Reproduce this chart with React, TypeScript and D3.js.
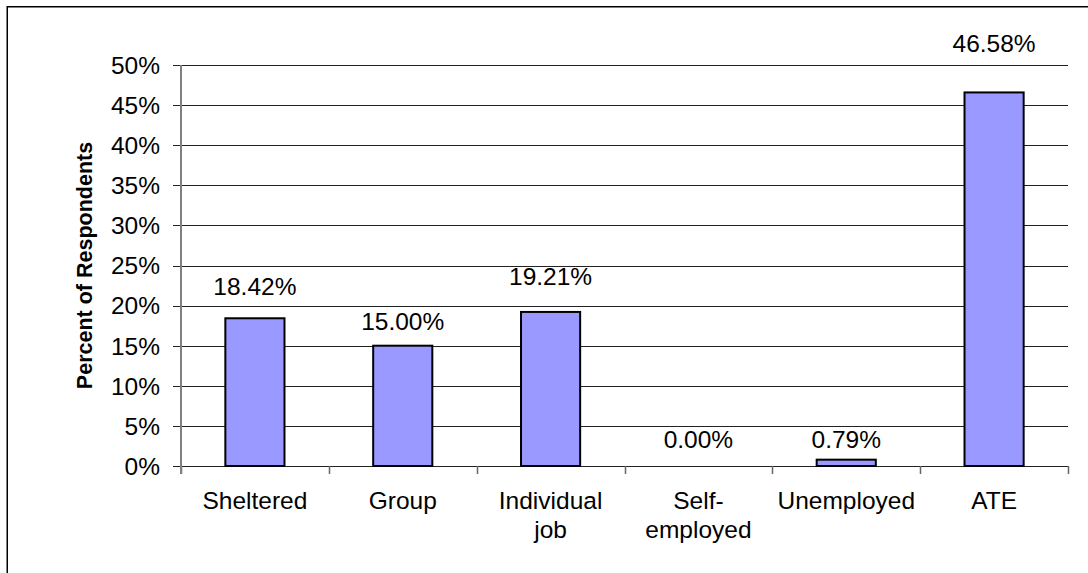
import React from "react";
import * as d3 from "d3";

const categories: string[][] = [
  ["Sheltered"],
  ["Group"],
  ["Individual", "job"],
  ["Self-", "employed"],
  ["Unemployed"],
  ["ATE"],
];
const values: number[] = [18.42, 15.0, 19.21, 0.0, 0.79, 46.58];
const valueLabels: string[] = ["18.42%", "15.00%", "19.21%", "0.00%", "0.79%", "46.58%"];
const yTicks: number[] = [0, 5, 10, 15, 20, 25, 30, 35, 40, 45, 50];
const yTitle = "Percent of Respondents";

export default function App() {
  const W = 1088;
  const H = 573;
  const left = 181;
  const right = 1068;
  const top = 65;
  const bottom = 466;
  const font = "'Liberation Sans', Arial, sans-serif";
  const fs = 24.5;

  const x = d3
    .scaleBand<number>()
    .domain(values.map((_, i) => i))
    .range([left, right])
    .paddingInner(0.6)
    .paddingOuter(0.3);
  const bandStep = (right - left) / values.length;
  const y = d3.scaleLinear().domain([0, 50]).range([bottom, top]);

  // Excel-like label placement above bars (px above bar top)
  const labelGap = [23, 16, 27, 18, 12, 40];

  return (
    <div style={{ position: "fixed", left: 0, top: 0 }}>
      <svg width={W} height={H} style={{ display: "block", background: "#fff" }}>
        <rect x={7.25} y={6.75} width={1200} height={700} fill="none" stroke="#000" strokeWidth={1.5} />
        {/* gridlines */}
        {yTicks.map((t) => (
          <g key={t}>
            <line x1={left} x2={right} y1={Math.round(y(t)) + 0.5} y2={Math.round(y(t)) + 0.5} stroke="#222" strokeWidth={1} />
            <line x1={173} x2={left} y1={Math.round(y(t)) + 0.5} y2={Math.round(y(t)) + 0.5} stroke="#222" strokeWidth={1} />
            <text
              x={160}
              y={y(t)}
              dy="0.36em"
              textAnchor="end"
              fontFamily={font}
              fontSize={fs}
              fill="#000"
            >
              {t}%
            </text>
          </g>
        ))}
        {/* x ticks */}
        {d3.range(values.length + 1).map((i) => (
          <line
            key={i}
            x1={Math.round(left + i * bandStep) + 0.5}
            x2={Math.round(left + i * bandStep) + 0.5}
            y1={bottom}
            y2={bottom + 8}
            stroke="#666"
            strokeWidth={1.5}
          />
        ))}
        {/* y axis */}
        <line x1={left} x2={left} y1={top} y2={bottom + 8} stroke="#808080" strokeWidth={2} />
        {/* bars */}
        {values.map((v, i) => (
          <rect
            key={i}
            x={x(i)!}
            y={y(v)}
            width={x.bandwidth()}
            height={Math.max(0, bottom - y(v))}
            fill="#9999FF"
            stroke="#000"
            strokeWidth={2}
            style={{ display: v > 0 ? "inline" : "none" }}
          />
        ))}
        {/* value labels */}
        {values.map((v, i) => (
          <text
            key={i}
            x={x(i)! + x.bandwidth() / 2}
            y={y(v) - labelGap[i]}
            textAnchor="middle"
            fontFamily={font}
            fontSize={fs}
            fill="#000"
          >
            {valueLabels[i]}
          </text>
        ))}
        {/* category labels */}
        {categories.map((lines, i) => (
          <text
            key={i}
            x={x(i)! + x.bandwidth() / 2}
            y={509}
            textAnchor="middle"
            fontFamily={font}
            fontSize={fs}
            fill="#000"
          >
            {lines.map((l, j) => (
              <tspan key={j} x={x(i)! + x.bandwidth() / 2} dy={j === 0 ? 0 : 28.5}>
                {l}
              </tspan>
            ))}
          </text>
        ))}
        {/* y title */}
        <text
          transform={`translate(92,${(top + bottom) / 2}) rotate(-90)`}
          textAnchor="middle"
          fontFamily={font}
          fontSize={21.5}
          fontWeight="bold"
          fill="#000"
        >
          {yTitle}
        </text>
      </svg>
    </div>
  );
}
